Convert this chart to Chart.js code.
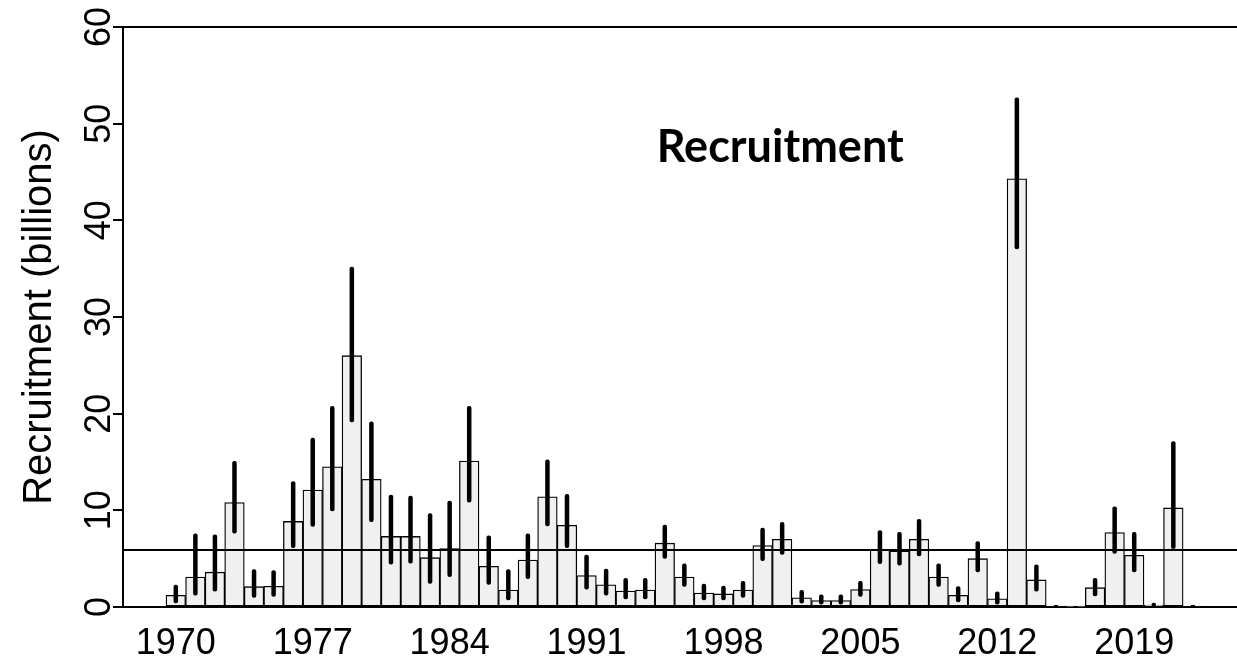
<!DOCTYPE html>
<html>
<head>
<meta charset="utf-8">
<script src="https://cdn.jsdelivr.net/npm/chart.js@4.4.0/dist/chart.umd.min.js"></script>
<style>
  html, body { margin: 0; padding: 0; background: #fff; overflow: hidden; }
  #wrap { position: absolute; left: 0; top: 0; width: 1260px; height: 662px; }
</style>
</head>
<body>
<div id="wrap"><canvas id="grafico" width="1260" height="662"></canvas></div>
<script>
let years = [1970, 1971, 1972, 1973, 1974, 1975, 1976, 1977, 1978, 1979,
             1980, 1981, 1982, 1983, 1984, 1985, 1986, 1987, 1988, 1989,
             1990, 1991, 1992, 1993, 1994, 1995, 1996, 1997, 1998, 1999,
             2000, 2001, 2002, 2003, 2004, 2005, 2006, 2007, 2008, 2009,
             2010, 2011, 2012, 2013, 2014, 2015, 2016, 2017, 2018, 2019,
             2020, 2021, 2022];
let recruit = [1.2, 3.1, 3.6, 10.8, 2.1, 2.15, 8.85, 12.1, 14.5, 26.0,
               13.2, 7.3, 7.3, 5.1, 6.05, 15.1, 4.2, 1.75, 4.85, 11.4,
               8.45, 3.25, 2.3, 1.65, 1.75, 6.6, 3.1, 1.45, 1.35, 1.75,
               6.35, 7.0, 0.95, 0.67, 0.67, 1.8, 5.95, 5.8, 7.0, 3.1,
               1.2, 5.0, 0.85, 44.3, 2.8, 0.1, 0.05, 2.0, 7.7, 5.35,
               0.2, 10.25, 0.1];
let errLow  = [0.4, 1.2, 1.6, 7.6, 0.95, 1.05, 6.1, 8.3, 9.9, 19.1,
               8.8, 4.4, 4.5, 2.4, 3.1, 10.8, 2.3, 0.7, 2.9, 8.35,
               6.1, 1.8, 1.2, 0.8, 0.8, 5.0, 2.1, 0.7, 0.7, 0.95,
               4.75, 5.4, 0.36, 0.26, 0.26, 1.05, 4.45, 4.3, 5.25, 2.1,
               0.5, 3.6, 0.26, 37.0, 1.6, 0.03, 0.01, 1.1, 5.5, 3.6,
               0.05, 6.0, 0.02];
let errHigh = [2.3, 7.6, 7.5, 15.1, 3.9, 3.8, 13.0, 17.5, 20.8, 35.2,
               19.2, 11.6, 11.5, 9.7, 11.0, 20.8, 7.4, 3.9, 7.6, 15.25,
               11.7, 5.4, 3.95, 3.0, 3.0, 8.5, 4.5, 2.4, 2.2, 2.7,
               8.2, 8.8, 1.75, 1.3, 1.3, 2.7, 7.95, 7.75, 9.1, 4.5,
               2.15, 6.8, 1.6, 52.7, 4.4, 0.2, 0.1, 3.0, 10.4, 7.75,
               0.45, 17.15, 0.2];
let tickYears = [1970, 1977, 1984, 1991, 1998, 2005, 2012, 2019];
let meanLevel = 5.9;
let xFrom = 1967.3;
let xTo = 2024.92;

let axisFont = { family: 'Liberation Sans', size: 36 };

// top frame line, mean line and the label inside the plot
let extras = {
  id: 'extras',
  afterDatasetsDraw(chart) {
    let { ctx, chartArea, scales: { x, y } } = chart;
    ctx.save();
    ctx.strokeStyle = '#000';
    ctx.lineWidth = 2;
    ctx.beginPath();
    ctx.moveTo(chartArea.left, chartArea.top);
    ctx.lineTo(chartArea.right, chartArea.top);
    let ym = Math.round(y.getPixelForValue(meanLevel));
    ctx.moveTo(chartArea.left, ym);
    ctx.lineTo(chartArea.right, ym);
    ctx.stroke();
    ctx.font = 'bold 45px Lato';
    ctx.fillStyle = '#000';
    ctx.textAlign = 'center';
    ctx.fillText('Recruitment', x.getPixelForValue(2000.9), y.getPixelForValue(46.0));
    ctx.restore();
  }
};

let ctx = document.getElementById('grafico').getContext('2d');

new Chart(ctx, {
  type: 'bar',
  data: {
    datasets: [
      {
        data: years.map((a, i) => ({ x: a, y: [errLow[i], errHigh[i]] })),
        backgroundColor: '#000',
        borderWidth: 0,
        borderRadius: 2,
        borderSkipped: false,
        barPercentage: 0.23,
        categoryPercentage: 1,
        grouped: false,
        order: 0
      },
      {
        data: years.map((a, i) => ({ x: a, y: recruit[i] })),
        backgroundColor: '#f0f0f0',
        borderColor: '#000',
        borderWidth: 1.3,
        borderSkipped: false,
        barPercentage: 1,
        categoryPercentage: 1,
        grouped: false,
        order: 1
      }
    ]
  },
  options: {
    responsive: false,
    animation: false,
    devicePixelRatio: 1,
    layout: { padding: { top: 27, right: 10, left: 0, bottom: 0 } },
    plugins: { legend: { display: false }, tooltip: { enabled: false } },
    scales: {
      x: {
        type: 'linear',
        offset: false,
        min: xFrom,
        max: xTo,
        grid: { drawOnChartArea: false, drawTicks: false, offset: false },
        border: { display: true, color: '#000', width: 2 },
        afterBuildTicks: s => { s.ticks = tickYears.map(v => ({ value: v })); },
        ticks: { color: '#000', font: axisFont, padding: 15, maxRotation: 0, autoSkip: false, callback: v => String(v) },
        afterFit: s => { s.height = 55; }
      },
      y: {
        min: 0,
        max: 60,
        ticks: { stepSize: 10, color: '#000', font: axisFont, minRotation: 90, maxRotation: 90, crossAlign: 'center', padding: -7 },
        grid: { drawOnChartArea: false, drawTicks: true, tickLength: 10, color: '#000', lineWidth: 2 },
        border: { color: '#000', width: 2 },
        title: { display: true, text: 'Recruitment (billions)', color: '#000', font: { family: 'Liberation Sans', size: 40 }, padding: { top: 16, bottom: 0 } },
        afterFit: s => { s.width = 123; }
      }
    }
  },
  plugins: [extras]
});
</script>
</body>
</html>
